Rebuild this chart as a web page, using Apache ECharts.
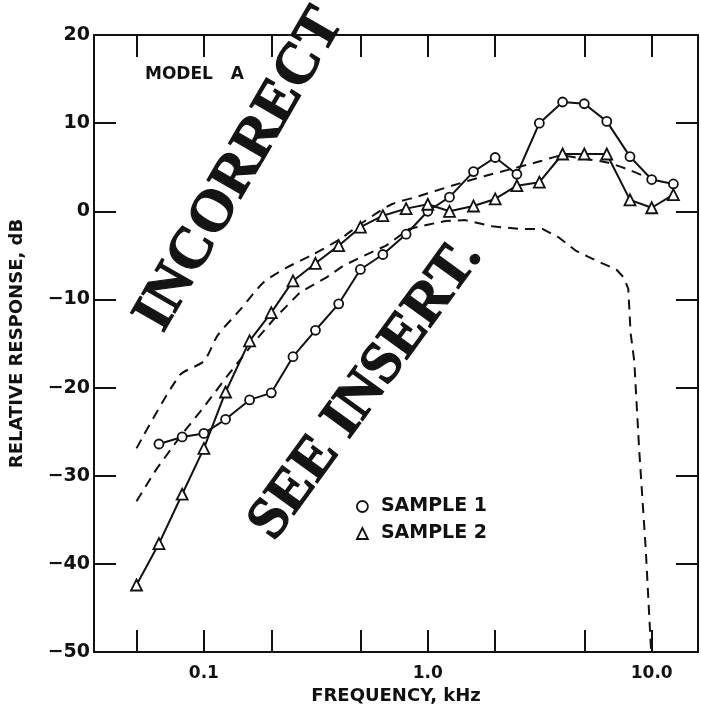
<!DOCTYPE html>
<html>
<head>
<meta charset="utf-8">
<script src="https://cdn.jsdelivr.net/npm/echarts@6/dist/echarts.min.js"></script>
<style>
html,body{margin:0;padding:0;background:#fff;}
#chart{width:701px;height:710px;}
</style>
</head>
<body>
<div id="chart"></div>
<script>
// ---- data (frequency in kHz, response in dB) ----
var freqSample1 = [0.063,0.08,0.1,0.125,0.16,0.2,0.25,0.315,0.4,0.5,0.63,0.8,1.0,1.25,1.6,2.0,2.5,3.15,4.0,5.0,6.3,8.0,10.0,12.5];
var sample1 = [-26.4,-25.6,-25.2,-23.6,-21.4,-20.6,-16.5,-13.5,-10.5,-6.6,-4.9,-2.6,0.0,1.6,4.5,6.1,4.2,10.0,12.4,12.2,10.2,6.2,3.6,3.1];

var freqSample2 = [0.05,0.063,0.08,0.1,0.125,0.16,0.2,0.25,0.315,0.4,0.5,0.63,0.8,1.0,1.25,1.6,2.0,2.5,3.15,4.0,5.0,6.3,8.0,10.0,12.5];
var sample2 = [-42.4,-37.7,-32.1,-26.9,-20.5,-14.7,-11.5,-7.9,-5.9,-3.9,-1.8,-0.5,0.3,0.8,0.0,0.6,1.4,2.9,3.3,6.5,6.5,6.5,1.3,0.4,1.9];

var freqUpperDashed = [0.05,0.078,0.1,0.115,0.146,0.184,0.234,0.307,0.403,0.51,0.69,0.91,1.28,1.8,2.36,3.2,3.94,4.85,6.4,8.1,10.0];
var upperDashed = [-26.9,-18.6,-17.0,-14.1,-11.1,-8.1,-6.4,-4.9,-3.2,-1.3,0.8,1.7,2.9,4.0,4.8,5.7,6.3,6.0,5.5,4.6,3.6];

var freqLowerDashed = [0.05,0.0614,0.0776,0.0983,0.124,0.162,0.206,0.269,0.353,0.418,0.513,0.651,0.825,1.01,1.2,1.47,1.94,2.56,3.25,3.86,4.6,5.66,6.95,7.5,7.86,8.05,8.36,8.79,9.41,9.93];
var lowerDashed = [-32.9,-29.25,-25.7,-22.45,-19.05,-15.3,-12.2,-9.2,-7.5,-6.2,-5.1,-3.9,-2.0,-1.5,-1.1,-1.0,-1.7,-2.0,-2.0,-3.0,-4.5,-5.6,-6.6,-7.5,-8.8,-13.8,-17.0,-27.0,-38.4,-49.7];

var xTickValues = [0.05,0.1,0.2,0.5,1,2,5,10];
var xLabelValues = [0.1,1,10];
var xLabelTexts = ['0.1','1.0','10.0'];
var xMin = 0.0323, xMax = 16.1;
var yMin = -50, yMax = 20, yStep = 10;

function pairs(xs, ys){ return xs.map(function(x,i){ return [x, ys[i]]; }); }

var font = '"DejaVu Sans", "Liberation Sans", sans-serif';
var serif = '"Liberation Serif", "DejaVu Serif", serif';
var ink = '#111';

var chart = echarts.init(document.getElementById('chart'), null, {renderer:'canvas'});

function xAxisCfg(pos, showLabel){
  return {
    type:'log', logBase:10, min:xMin, max:xMax, position:pos,
    axisLine:{show:true, onZero:false, lineStyle:{color:ink, width:2}},
    axisTick:{show:true, inside:true, length:22, customValues:xTickValues, lineStyle:{color:ink, width:2}},
    axisLabel:{show:showLabel, customValues:xLabelValues, margin:13,
      color:ink, fontFamily:font, fontWeight:'bold', fontSize:17,
      formatter:function(v){ var i = xLabelValues.findIndex(function(t){return Math.abs(t-v)<1e-9;}); return i>=0 ? xLabelTexts[i] : ''; }},
    minorTick:{show:false}, splitLine:{show:false}, minorSplitLine:{show:false},
    name: showLabel ? 'FREQUENCY, kHz' : '',
    nameLocation:'middle', nameGap:30,
    nameTextStyle:{color:ink, fontFamily:font, fontWeight:'bold', fontSize:18}
  };
}
function yAxisCfg(pos, showLabel){
  return {
    type:'value', min:yMin, max:yMax, interval:yStep, position:pos,
    axisLine:{show:true, onZero:false, lineStyle:{color:ink, width:2}},
    axisTick:{show:true, inside:true, length:22, lineStyle:{color:ink, width:2}},
    axisLabel:{show:showLabel, margin:4, color:ink, fontFamily:font, fontWeight:'bold', fontSize:19,
      formatter:function(v){ return v<0 ? '\u2212'+Math.abs(v) : String(v); }},
    splitLine:{show:false},
    name: showLabel ? 'RELATIVE RESPONSE, dB' : '',
    nameLocation:'middle', nameGap:68, nameRotate:90,
    nameTextStyle:{color:ink, fontFamily:font, fontWeight:'bold', fontSize:18}
  };
}

function markerSeries(name, xs, ys, symbol, size){
  return {
    name:name, type:'line', data:pairs(xs, ys), xAxisIndex:0, yAxisIndex:0,
    symbol:symbol, symbolSize:size, showAllSymbol:true,
    lineStyle:{color:ink, width:2},
    itemStyle:{color:'#fff', borderColor:ink, borderWidth:1.8},
    z:4, silent:true
  };
}
function dashedSeries(name, xs, ys, smooth){
  return {
    name:name, type:'line', data:pairs(xs, ys), xAxisIndex:0, yAxisIndex:0,
    symbol:'none', smooth:smooth,
    lineStyle:{color:ink, width:2, type:[10,7]},
    z:3, silent:true
  };
}

var option = {
  animation:false,
  backgroundColor:'#fff',
  grid:{left:93, right:3, top:35, bottom:58, containLabel:false},
  xAxis:[xAxisCfg('bottom', true), xAxisCfg('top', false)],
  yAxis:[yAxisCfg('left', true), yAxisCfg('right', false)],
  legend:{
    show:true, orient:'vertical', left:351, top:492, itemGap:8,
    itemWidth:11, itemHeight:11, symbolKeepAspect:true,
    data:[{name:'SAMPLE 1', icon:'circle', itemStyle:{color:'#fff', borderColor:ink, borderWidth:1.8}},
          {name:'SAMPLE 2', icon:'triangle', itemStyle:{color:'#fff', borderColor:ink, borderWidth:1.8}}],
    textStyle:{color:ink, fontFamily:font, fontWeight:'bold', fontSize:19, padding:[0,0,0,8]}
  },
  graphic:[
    {type:'text', left:145, top:66, style:{text:'MODEL   A', fill:ink, fontFamily:font, fontWeight:'bold', fontSize:17}},
    {type:'text', x:240, y:170, rotation:Math.PI*60/180, z:10,
     style:{text:'INCORRECT', fill:'#141414', stroke:'#141414', lineWidth:1.2, fontFamily:serif, fontWeight:'bold', fontSize:59, align:'center', verticalAlign:'middle'}},
    {type:'text', x:366, y:390, rotation:Math.PI*54/180, z:10,
     style:{text:'SEE INSERT.', fill:'#141414', stroke:'#141414', lineWidth:1.2, fontFamily:serif, fontWeight:'bold', fontSize:59, align:'center', verticalAlign:'middle'}}
  ],
  series:[
    markerSeries('SAMPLE 1', freqSample1, sample1, 'circle', 9),
    markerSeries('SAMPLE 2', freqSample2, sample2, 'triangle', 11),
    dashedSeries('upper dashed', freqUpperDashed, upperDashed, 0.25),
    dashedSeries('lower dashed', freqLowerDashed, lowerDashed, false)
  ]
};
chart.setOption(option);
</script>
</body>
</html>
